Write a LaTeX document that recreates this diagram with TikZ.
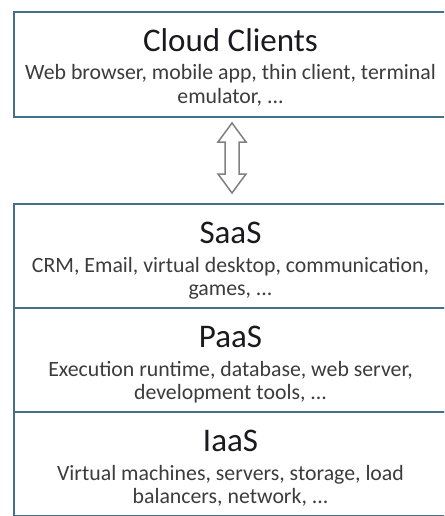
\documentclass[tikz,border=0pt]{standalone}
\usepackage{fontspec}
\setmainfont{Carlito}
\definecolor{boxline}{RGB}{68,112,138}
\definecolor{titlecol}{RGB}{25,25,30}
\definecolor{subcol}{RGB}{60,60,60}
\definecolor{arrowcol}{RGB}{128,128,128}
\tikzset{
  layerbox/.style={draw=boxline, line width=2pt, fill=white, minimum width=435pt, inner sep=0pt, anchor=north west},
  titletext/.style={anchor=base, inner sep=0pt, text=titlecol, font=\fontsize{33}{38}\selectfont},
  subtext/.style={anchor=base, inner sep=0pt, text=subcol, font=\fontsize{21.8}{23}\selectfont},
}
\begin{document}
\begin{tikzpicture}[x=1pt,y=-1pt]
\clip (0,0) rectangle (444,516);
\fill[white] (0,0) rectangle (444,516);
% boxes
\node[layerbox, minimum height=105pt] (cc) at (13,11) {};
\node[layerbox, minimum height=104pt] (saas) at (13,203) {};
\node[layerbox, minimum height=104pt] (paas) at (13,307) {};
\node[layerbox, minimum height=104pt] (iaas) at (13,411) {};
% texts
\node[titletext] (cct) at (230.5,52) {Cloud Clients};
\node[subtext] (ccs1) at (230.5,80) {Web browser, mobile app, thin client, terminal};
\node[subtext] (ccs2) at (230.5,103) {emulator, ...};
\node[titletext] (saast) at (230.5,243) {SaaS};
\node[subtext] (saass1) at (230.5,272) {CRM, Email, virtual desktop, communication,};
\node[subtext] (saass2) at (230.5,295) {games, ...};
\node[titletext] (paast) at (230.5,347) {PaaS};
\node[subtext] (paass1) at (230.5,376) {Execution runtime, database, web server,};
\node[subtext] (paass2) at (230.5,399) {development tools, ...};
\node[titletext] (iaast) at (230.5,451) {IaaS};
\node[subtext] (iaass1) at (230.5,480) {Virtual machines, servers, storage, load};
\node[subtext] (iaass2) at (230.5,503) {balancers, network, ...};
% double arrow
\coordinate (atop) at (232,123);
\coordinate (abot) at (232,193);
\draw[arrowcol, line width=1.5pt, fill=white, line join=miter]
  (atop) -- ++(14,19) -- ++(-7,0) -- ++(0,32) -- ++(7,0) -- (abot)
  -- ++(-14,-19) -- ++(7,0) -- ++(0,-32) -- ++(-7,0) -- cycle;
\end{tikzpicture}
\end{document}
